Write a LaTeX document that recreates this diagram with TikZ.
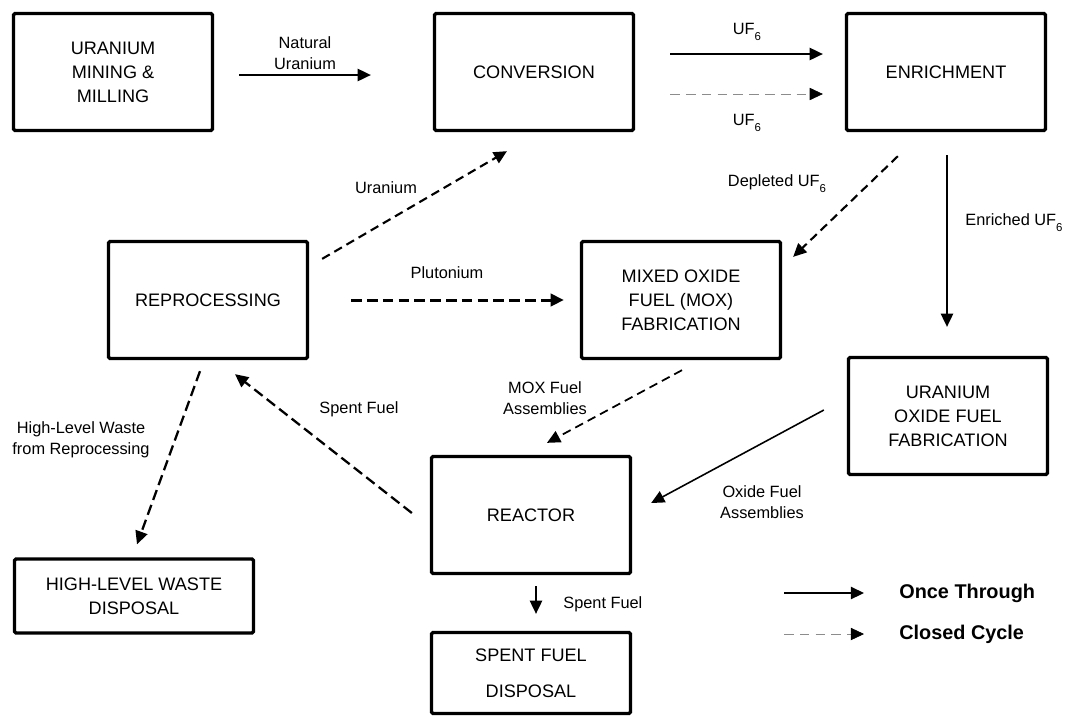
\documentclass[tikz,border=0pt]{standalone}
\usepackage{fontspec}
\setmainfont{Liberation Sans}
\usetikzlibrary{arrows.meta,calc}
\newcommand\lowsix{\raisebox{-0.7ex}{\fontsize{6.5}{7}\selectfont 6}}

\begin{document}
\begin{tikzpicture}[x=0.02cm,y=-0.02cm,
  box/.style={draw,line width=1.9pt,rounded corners=0.8pt,inner sep=0pt,align=center,
    minimum width=3.98cm,minimum height=2.34cm,font=\fontsize{10.3}{13.6}\selectfont},
  lbl/.style={inner sep=0pt,align=center,font=\fontsize{9.3}{11.9}\selectfont},
  tip/.style={-{Triangle[length=7.5pt,width=7pt,color=black]}},
  once/.style={tip,line width=0.9pt},
  closed/.style={tip,line width=0.4pt,black!45,dash pattern=on 5.5pt off 3.5pt},
  cyc/.style={tip,line width=1pt,dash pattern=on 5pt off 3pt},
  heavy/.style={tip,line width=1.7pt,dash pattern=on 6pt off 3pt}]
\useasboundingbox (0,0) rectangle (1065,718);

\node[box] (mining) at (113,72) {URANIUM\\MINING \&\\MILLING};
\node[box] (conv) at (534,72) {CONVERSION};
\node[box] (enrich) at (946,72) {ENRICHMENT};
\node[box] (reproc) at (208,300) {REPROCESSING};
\node[box] (mox) at (681,300) {MIXED OXIDE\\FUEL (MOX)\\FABRICATION};
\node[box] (uox) at (948,416) {URANIUM\\OXIDE FUEL\\FABRICATION};
\node[box] (reactor) at (531,515) {REACTOR};
\node[box,minimum width=4.78cm,minimum height=1.48cm] (hlw) at (134,596) {HIGH-LEVEL WASTE\\DISPOSAL};
\node[box,minimum height=1.62cm] (sfd) at (531,673) {SPENT FUEL\\[7pt]DISPOSAL};

\draw[once] ($(mining.east)+(25,3)$) -- ($(conv.west)+(-62,3)$);
\draw[once] ($(conv.east)+(35,-18)$) -- ($(enrich.west)+(-22,-18)$);
\draw[closed] ($(conv.east)+(35,22)$) -- ($(enrich.west)+(-22,22)$);
\draw[once] ($(enrich.south)+(1,23)$) -- ($(uox.north)+(-1,-29)$);
\draw[cyc,line width=1.2pt] ($(enrich.south west)+(53,24)$) -- ($(mox.north east)+(11,17)$);
\draw[cyc,line width=1.2pt] ($(reproc.north east)+(13,19)$) -- ($(conv.south)+(-27,19)$);
\draw[heavy] ($(reproc.east)+(42,0)$) -- ($(mox.west)+(-16,0)$);
\draw[cyc] ($(mox.south)+(1,10)$) -- ($(reactor.north)+(16,-12)$);
\draw[once] ($(uox.west)+(-23,-6)$) -- ($(reactor.east)+(19,-12)$);
\draw[heavy,line width=1.3pt] ($(reactor.west)+(-18,-2)$) -- ($(reproc.south)+(27,14)$);
\draw[heavy,line width=1.3pt] ($(reproc.south)+(-8,11)$) -- ($(hlw.north)+(3,-13)$);
\draw[once] ($(reactor.south)+(5,11)$) -- ($(sfd.north)+(5,-17)$);

\node[lbl] (natu) at (305,53) {Natural\\Uranium};
\node[lbl] (uf6a) at (747,32) {UF\lowsix};
\node[lbl] (uf6b) at (747,123) {UF\lowsix};
\node[lbl] (depl) at (777,184) {Depleted UF\lowsix};
\node[lbl,anchor=west] (enru) at (965,223) {Enriched UF\lowsix};
\node[lbl] (uran) at (386,188) {Uranium};
\node[lbl] (plut) at (447,273) {Plutonium};
\node[lbl] (moxa) at (545,398) {MOX Fuel\\Assemblies};
\node[lbl] (oxfa) at (762,502) {Oxide Fuel\\Assemblies};
\node[lbl] (spfa) at (359,409) {Spent Fuel};
\node[lbl] (hlwr) at (81,440) {High-Level Waste\\from Reprocessing};
\node[lbl,anchor=west] (spfb) at (563,604) {Spent Fuel};

\coordinate (ka) at (784,593);
\coordinate (kb) at (864,593);
\coordinate (kc) at (784,634);
\coordinate (kd) at (864,634);
\draw[once] (ka) -- (kb);
\draw[closed] (kc) -- (kd);
\node[anchor=west,inner sep=0pt,font=\fontsize{11.3}{13}\selectfont\bfseries] (konce) at (899,593) {Once Through};
\node[anchor=west,inner sep=0pt,font=\fontsize{11.3}{13}\selectfont\bfseries] (kclosed) at (899,634) {Closed Cycle};

\end{tikzpicture}
\end{document}
